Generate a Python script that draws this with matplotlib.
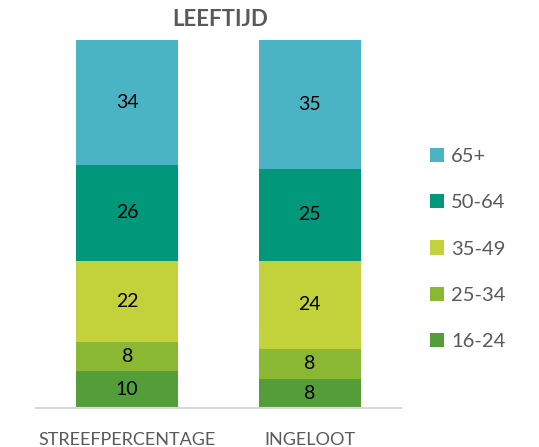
import matplotlib
matplotlib.use("Agg")
import matplotlib.pyplot as plt
import numpy as np

categories = ["STREEFPERCENTAGE", "INGELOOT"]
groups = ["16-24", "25-34", "35-49", "50-64", "65+"]
values = {
    "16-24": [10, 8],
    "25-34": [8, 8],
    "35-49": [22, 24],
    "50-64": [26, 25],
    "65+": [34, 35],
}
colors = {
    "16-24": "#549E39",
    "25-34": "#8BB833",
    "35-49": "#C3D13B",
    "50-64": "#00977A",
    "65+": "#4AB4C5",
}

plt.rcParams['font.family'] = ['Lato', 'DejaVu Sans']
fig = plt.figure(figsize=(5.39, 4.47), dpi=100)
ax = fig.add_axes([36/539, 39/447, 365/539, 368/447])

x = np.arange(len(categories))
bottom = np.zeros(len(categories))
handles = []
for g in groups:
    v = np.array(values[g], dtype=float)
    b = ax.bar(x, v, bottom=bottom, width=0.56, color=colors[g], label=g)
    handles.append(b)
    for xi, vi, bi in zip(x, v, bottom):
        ax.text(xi, bi + vi/2, f"{int(vi)}", ha='center', va='center',
                fontsize=14, color='black')
    bottom += v

ax.set_xlim(-0.5, 1.5)
ax.set_ylim(0, 100)
ax.set_yticks([])
ax.set_xticks(x)
ax.set_xticklabels(categories, fontsize=13, color='#595959')
ax.tick_params(axis='x', length=0, pad=17)
for s in ['top', 'right', 'left']:
    ax.spines[s].set_visible(False)
ax.spines['bottom'].set_color('#D9D9D9')
ax.spines['bottom'].set_linewidth(1.5)

fig.text(220/539, 1 - 20/447, "LEEFTIJD", ha='center', va='center',
         fontsize=16, fontweight='bold', color='#595959')

leg = fig.legend(handles=handles[::-1], labels=groups[::-1], loc='center left',
                 bbox_to_anchor=(412/539, 1 - 249/447), frameon=False,
                 fontsize=14.5, labelcolor='#595959', handlelength=0.7,
                 handleheight=0.7, labelspacing=1.45, handletextpad=0.35)

fig.savefig("out.png", dpi=100)
